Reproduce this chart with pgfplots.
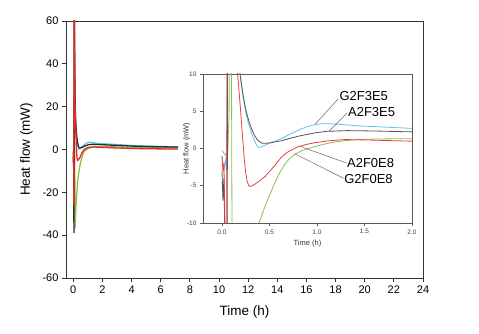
\documentclass[border=0pt]{standalone}
\usepackage{pgfplots}
\pgfplotsset{compat=1.18}
\usepackage{pgfplotstable}
\usepackage{fontspec}
\setmainfont{Liberation Sans}
\definecolor{cblk}{HTML}{2A2A2A}
\definecolor{cblu}{HTML}{5EC4EA}
\definecolor{cred}{HTML}{E82828}
\definecolor{cgrn}{HTML}{8CC04A}

\pgfplotstableread{
t y
0.000 -3
0.010 -7
0.020 -4
0.030 -12
0.045 -39
0.055 -15
0.065 80
0.090 45
0.120 25
0.150 15
0.190 10
0.220 7.3
0.250 5.2
0.280 3.8
0.310 2.7
0.340 1.8
0.370 1.2
0.400 0.85
0.420 0.72
0.450 0.70
0.500 0.75
0.560 0.88
0.630 1.05
0.720 1.38
0.820 1.7
0.980 2.1
1.100 2.3
1.320 2.4
1.600 2.35
2.000 2.23
3.000 1.9
4.000 1.6
5.000 1.4
6.000 1.25
7.200 1.15
}\blk

\pgfplotstableread{
t y
0.000 -1
0.020 -3
0.035 -1.5
0.050 -3
0.055 30
0.060 80
0.100 35
0.140 18
0.190 10
0.220 7
0.250 4.9
0.280 3.3
0.310 2.1
0.340 1.1
0.360 0.55
0.380 0.18
0.400 0.16
0.430 0.3
0.480 0.6
0.550 0.95
0.630 1.37
0.720 1.95
0.820 2.55
0.900 2.95
0.980 3.2
1.050 3.32
1.140 3.32
1.300 3.18
1.490 3.0
1.750 2.85
2.000 2.7
3.000 2.3
4.000 1.9
5.000 1.6
6.000 1.4
7.200 1.2
}\blu

\pgfplotstableread{
t y
0.000 -1
0.010 -3
0.020 -2
0.030 -9
0.040 -26
0.050 -10
0.055 30
0.060 80
0.090 40
0.120 20
0.165 10
0.190 6
0.205 3.5
0.220 1.0
0.235 -1.5
0.250 -3.3
0.265 -4.4
0.280 -4.95
0.295 -5.1
0.320 -5.0
0.350 -4.75
0.400 -4.3
0.450 -3.8
0.500 -3.1
0.560 -2.2
0.630 -1.1
0.700 -0.4
0.800 0.24
0.890 0.55
0.980 0.78
1.100 1.0
1.290 1.2
1.500 1.15
2.000 0.98
3.000 0.7
4.000 0.5
5.000 0.35
6.000 0.28
7.200 0.22
}\red

\pgfplotstableread{
t y
0.000 -0.3
0.020 -0.6
0.040 -0.9
0.060 -0.5
0.075 5
0.085 80
0.095 30
0.105 -10
0.120 -37
0.150 -32
0.200 -25
0.250 -19.5
0.300 -15
0.350 -12
0.390 -10
0.440 -8.2
0.490 -6.6
0.560 -4.5
0.610 -3.2
0.660 -2.15
0.710 -1.35
0.770 -0.74
0.840 -0.3
0.910 0.0
1.000 0.33
1.080 0.6
1.180 0.85
1.290 1.05
1.450 1.2
1.650 1.28
2.000 1.32
3.000 1.2
4.000 1.0
5.000 0.85
6.000 0.75
7.200 0.7
}\grn

\begin{document}
\begin{tikzpicture}
\useasboundingbox (0,0) rectangle (479pt,334pt);
\begin{axis}[
  at={(66pt,56pt)}, anchor=south west, scale only axis,
  width=357pt, height=257pt,
  xmin=-0.5, xmax=24, ymin=-60, ymax=60,
  xtick={0,2,...,24}, ytick={-60,-40,...,60},
  tick align=outside, xtick pos=bottom, ytick pos=left,
  major tick length=4pt,
  axis line style={draw=black!80, line width=0.8pt},
  every tick/.style={black!80, line width=0.8pt},
  ticklabel style={font=\fontsize{11}{13}\selectfont},
  label style={font=\fontsize{13.5}{16}\selectfont},
  xlabel={Time (h)}, ylabel={Heat flow (mW)},
  xlabel style={yshift=-6pt}, ylabel style={yshift=3pt},
  /pgf/number format/assume math mode=true,
  every axis plot/.append style={line width=1.3pt},
]
\addplot[cgrn, no marks] table[x=t,y=y] {\grn};
\addplot[cblu, no marks] table[x=t,y=y] {\blu};
\addplot[cblk, no marks] table[x=t,y=y] {\blk};
\addplot[cred, no marks] table[x=t,y=y] {\red};
\end{axis}
\begin{axis}[
  at={(203pt,111pt)}, anchor=south west, scale only axis,
  width=209pt, height=149pt,
  xmin=-0.2, xmax=2, ymin=-10, ymax=10,
  xtick={0,0.5,...,2}, ytick={-10,-5,...,10},
  xticklabel style={/pgf/number format/.cd, fixed, fixed zerofill, precision=1},
  tick align=outside, xtick pos=bottom, ytick pos=left,
  major tick length=3pt,
  axis background/.style={fill=white},
  axis line style={draw=black!65, line width=0.6pt},
  every tick/.style={black!65, line width=0.6pt},
  ticklabel style={font=\fontsize{6.5}{8}\selectfont, text=black!75},
  label style={font=\fontsize{7.5}{9}\selectfont, text=black!80},
  xlabel={Time (h)}, ylabel={Heat flow (mW)},
  xlabel style={yshift=1pt}, ylabel style={yshift=-10pt},
  /pgf/number format/assume math mode=true,
  every axis plot/.append style={line width=0.8pt},
]
\addplot[cgrn, no marks] table[x=t,y=y] {\grn};
\addplot[cblu, no marks] table[x=t,y=y] {\blu};
\addplot[cblk!80, no marks] table[x=t,y=y] {\blk};
\addplot[cred!90, no marks] table[x=t,y=y] {\red};
\draw[black!60, line width=0.5pt] (axis cs:0.98,3.25) -- (axis cs:1.22,6.6);
\draw[black!60, line width=0.5pt] (axis cs:1.13,2.35) -- (axis cs:1.32,4.8);
\draw[black!60, line width=0.5pt] (axis cs:0.82,0.3) -- (axis cs:1.31,-1.95);
\draw[black!60, line width=0.5pt] (axis cs:0.77,-0.74) -- (axis cs:1.28,-4.0);
\node[anchor=west, inner sep=0.5pt, font=\fontsize{13}{15}\selectfont] at (axis cs:1.23,7.0) {G2F3E5};
\node[anchor=west, inner sep=0.5pt, font=\fontsize{13}{15}\selectfont] at (axis cs:1.32,4.9) {A2F3E5};
\node[anchor=west, inner sep=0.5pt, font=\fontsize{13}{15}\selectfont] at (axis cs:1.31,-1.95) {A2F0E8};
\node[anchor=west, inner sep=0.5pt, font=\fontsize{13}{15}\selectfont] at (axis cs:1.28,-4.1) {G2F0E8};
\end{axis}
\end{tikzpicture}
\end{document}
